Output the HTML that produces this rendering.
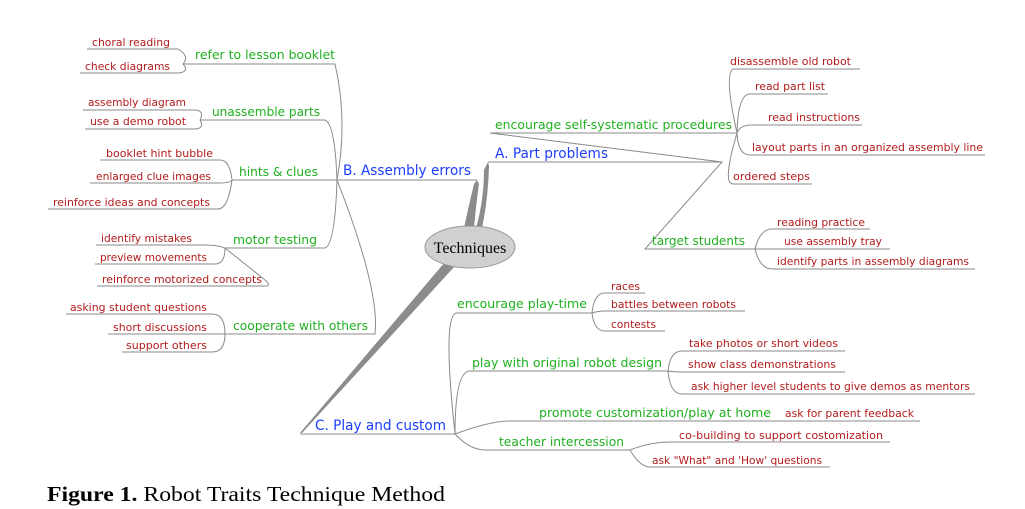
<!DOCTYPE html>
<html><head><meta charset="utf-8"><style>
html,body{margin:0;padding:0;background:#fff}
svg{display:block}
.r{fill:#b31b1b;font-family:"DejaVu Sans","Liberation Sans",sans-serif;font-size:11px}
.g{fill:#20b020;font-family:"DejaVu Sans","Liberation Sans",sans-serif;font-size:12.5px}
.b{fill:#1d3dff;font-family:"DejaVu Sans","Liberation Sans",sans-serif;font-size:14px}
path.l{fill:none;stroke:#8a8a8a;stroke-width:1}
</style></head><body>
<svg width="1025" height="509" viewBox="0 0 1025 509" xmlns="http://www.w3.org/2000/svg">
<!-- B branch -->
<g>
<path class="l" d="M337 180 Q348 120 335 64 L183 64"/>
<path class="l" d="M337 180 Q335 124 325 120 L200 120"/>
<path class="l" d="M337 180 L232 180"/>
<path class="l" d="M337 180 Q335 245 325 248 L225 248"/>
<path class="l" d="M337 180 Q380 290 375 334 L225 334"/>
<path class="l" d="M337 180 L477 180"/>
<text class="b" x="343" y="175" textLength="128" lengthAdjust="spacingAndGlyphs">B. Assembly errors</text>
<text class="g" x="195" y="59" textLength="140" lengthAdjust="spacingAndGlyphs">refer to lesson booklet</text>
<text class="g" x="212" y="116" textLength="108" lengthAdjust="spacingAndGlyphs">unassemble parts</text>
<text class="g" x="239" y="176" textLength="79" lengthAdjust="spacingAndGlyphs">hints &amp; clues</text>
<text class="g" x="233" y="244" textLength="84" lengthAdjust="spacingAndGlyphs">motor testing</text>
<text class="g" x="233" y="330" textLength="135" lengthAdjust="spacingAndGlyphs">cooperate with others</text>

<path class="l" d="M183 64 Q190 56 178 49 L87 49"/>
<path class="l" d="M183 64 Q190 72 178 73 L80 73"/>
<text class="r" x="92" y="46" textLength="78" lengthAdjust="spacingAndGlyphs">choral reading</text>
<text class="r" x="85" y="70" textLength="85" lengthAdjust="spacingAndGlyphs">check diagrams</text>

<path class="l" d="M200 120 Q205 110 194 110 L83 110"/>
<path class="l" d="M200 120 Q205 129 194 129 L85 129"/>
<text class="r" x="88" y="106" textLength="98" lengthAdjust="spacingAndGlyphs">assembly diagram</text>
<text class="r" x="90" y="125" textLength="96" lengthAdjust="spacingAndGlyphs">use a demo robot</text>

<path class="l" d="M232 180 Q230 160 220 160 L100 160"/>
<path class="l" d="M232 180 Q230 183 220 183 L90 183"/>
<path class="l" d="M232 180 Q228 209 218 209 L48 209"/>
<text class="r" x="106" y="157" textLength="107" lengthAdjust="spacingAndGlyphs">booklet hint bubble</text>
<text class="r" x="96" y="180" textLength="115" lengthAdjust="spacingAndGlyphs">enlarged clue images</text>
<text class="r" x="53" y="206" textLength="157" lengthAdjust="spacingAndGlyphs">reinforce ideas and concepts</text>

<path class="l" d="M225 248 Q218 245 205 245 L96 245"/>
<path class="l" d="M225 248 Q225 264 215 264 L95 264"/>
<path class="l" d="M225 248 L265 280 Q272 286 265 286 L97 286"/>
<text class="r" x="101" y="242" textLength="91" lengthAdjust="spacingAndGlyphs">identify mistakes</text>
<text class="r" x="100" y="261" textLength="107" lengthAdjust="spacingAndGlyphs">preview movements</text>
<text class="r" x="102" y="283" textLength="160" lengthAdjust="spacingAndGlyphs">reinforce motorized concepts</text>

<path class="l" d="M225 334 Q225 314 212 314 L66 314"/>
<path class="l" d="M225 334 L108 334"/>
<path class="l" d="M225 334 Q225 352 212 352 L122 352"/>
<text class="r" x="70" y="311" textLength="137" lengthAdjust="spacingAndGlyphs">asking student questions</text>
<text class="r" x="113" y="331" textLength="94" lengthAdjust="spacingAndGlyphs">short discussions</text>
<text class="r" x="126" y="349" textLength="81" lengthAdjust="spacingAndGlyphs">support others</text>
</g>

<!-- thick connectors -->
<path d="M464 228 Q470 200 474 184 L477 180 L479 184 Q476 205 474 228 Z" fill="#8c8c8c"/>
<path d="M476 228 Q484 200 484 170 L488 162 L489 166 Q488 200 482 228 Z" fill="#8c8c8c"/>
<path d="M445 262 L300 433 L302 433 L455 266 Z" fill="#8c8c8c"/>

<ellipse cx="470" cy="247" rx="45" ry="21" fill="#d0d0d0" stroke="#999" stroke-width="1"/>
<text x="470" y="253" text-anchor="middle" font-family="Liberation Serif,serif" font-size="16" fill="#000">Techniques</text>

<!-- A branch -->
<g>
<path class="l" d="M488 162 L722 162"/>
<text class="b" x="495" y="158" textLength="113" lengthAdjust="spacingAndGlyphs">A. Part problems</text>
<path class="l" d="M490 133 L737 133"/>
<path class="l" d="M490 133 L722 162 L645 249 L755 249"/>
<text class="g" x="495" y="129" textLength="237" lengthAdjust="spacingAndGlyphs">encourage self-systematic procedures</text>
<text class="g" x="652" y="245" textLength="93" lengthAdjust="spacingAndGlyphs">target students</text>

<path class="l" d="M737 133 Q724 75 733 69 L860 69"/>
<path class="l" d="M737 133 Q738 94 750 94 L828 94"/>
<path class="l" d="M737 133 Q740 125 752 125 L862 125"/>
<path class="l" d="M737 133 Q738 155 750 155 L985 155"/>
<path class="l" d="M737 133 Q722 184 733 184 L812 184"/>
<text class="r" x="730" y="65" textLength="121" lengthAdjust="spacingAndGlyphs">disassemble old robot</text>
<text class="r" x="755" y="90" textLength="70" lengthAdjust="spacingAndGlyphs">read part list</text>
<text class="r" x="768" y="121" textLength="92" lengthAdjust="spacingAndGlyphs">read instructions</text>
<text class="r" x="752" y="151" textLength="231" lengthAdjust="spacingAndGlyphs">layout parts in an organized assembly line</text>
<text class="r" x="733" y="180" textLength="77" lengthAdjust="spacingAndGlyphs">ordered steps</text>

<path class="l" d="M755 249 Q760 229 772 229 L870 229"/>
<path class="l" d="M755 249 L890 249"/>
<path class="l" d="M755 249 Q760 269 772 269 L975 269"/>
<text class="r" x="777" y="226" textLength="88" lengthAdjust="spacingAndGlyphs">reading practice</text>
<text class="r" x="784" y="245" textLength="98" lengthAdjust="spacingAndGlyphs">use assembly tray</text>
<text class="r" x="777" y="265" textLength="192" lengthAdjust="spacingAndGlyphs">identify parts in assembly diagrams</text>
</g>

<!-- C branch -->
<g>
<path class="l" d="M300 434 L455 434"/>
<text class="b" x="315" y="430" textLength="131" lengthAdjust="spacingAndGlyphs">C. Play and custom</text>
<path class="l" d="M455 434 Q442 313 457 313 L592 313"/>
<path class="l" d="M455 434 Q455 371 470 371 L668 371"/>
<path class="l" d="M455 434 Q490 421 510 421 L920 421"/>
<path class="l" d="M455 434 Q470 450 485 450 L630 450"/>
<text class="g" x="457" y="308" textLength="130" lengthAdjust="spacingAndGlyphs">encourage play-time</text>
<text class="g" x="472" y="367" textLength="190" lengthAdjust="spacingAndGlyphs">play with original robot design</text>
<text class="g" x="539" y="417" textLength="232" lengthAdjust="spacingAndGlyphs">promote customization/play at home</text>
<text class="g" x="499" y="446" textLength="125" lengthAdjust="spacingAndGlyphs">teacher intercession</text>

<path class="l" d="M592 313 Q594 293 605 293 L645 293"/>
<path class="l" d="M592 313 Q598 311 605 311 L745 311"/>
<path class="l" d="M592 313 Q594 331 605 331 L665 331"/>
<text class="r" x="611" y="290" textLength="29" lengthAdjust="spacingAndGlyphs">races</text>
<text class="r" x="611" y="308" textLength="125" lengthAdjust="spacingAndGlyphs">battles between robots</text>
<text class="r" x="611" y="328" textLength="45" lengthAdjust="spacingAndGlyphs">contests</text>

<path class="l" d="M668 371 Q670 351 682 351 L845 351"/>
<path class="l" d="M668 371 Q674 372 685 372 L845 372"/>
<path class="l" d="M668 371 Q670 394 682 394 L975 394"/>
<text class="r" x="689" y="347" textLength="149" lengthAdjust="spacingAndGlyphs">take photos or short videos</text>
<text class="r" x="688" y="368" textLength="148" lengthAdjust="spacingAndGlyphs">show class demonstrations</text>
<text class="r" x="691" y="390" textLength="279" lengthAdjust="spacingAndGlyphs">ask higher level students to give demos as mentors</text>
<text class="r" x="785" y="417" textLength="129" lengthAdjust="spacingAndGlyphs">ask for parent feedback</text>

<path class="l" d="M630 450 Q650 442 670 442 L890 442"/>
<path class="l" d="M630 450 Q640 467 650 467 L830 467"/>
<text class="r" x="679" y="439" textLength="204" lengthAdjust="spacingAndGlyphs">co-building to support costomization</text>
<text class="r" x="652" y="464" textLength="170" lengthAdjust="spacingAndGlyphs">ask "What" and 'How' questions</text>
</g>

<text x="47" y="501" font-family="Liberation Serif,serif" font-size="21" fill="#000" textLength="398" lengthAdjust="spacingAndGlyphs"><tspan font-weight="bold">Figure 1.</tspan> Robot Traits Technique Method</text>
</svg>
</body></html>
